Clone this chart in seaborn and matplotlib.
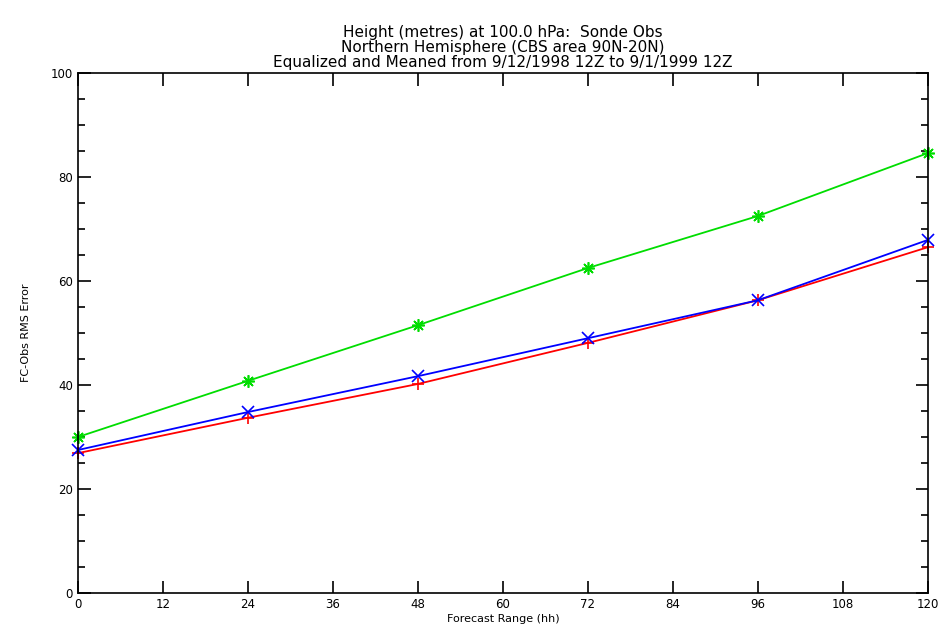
import numpy as np
import pandas as pd
import matplotlib
matplotlib.use("Agg")
import matplotlib.pyplot as plt
import seaborn as sns
from matplotlib.ticker import MultipleLocator

# ---------- DATA ----------
forecast_hours = [0, 24, 48, 72, 96, 120]
red_rms = [26.9, 33.7, 40.2, 48.1, 56.3, 66.5]
blue_rms = [27.5, 34.8, 41.7, 49.0, 56.3, 67.9]
green_rms = [30.0, 40.8, 51.5, 62.5, 72.5, 84.6]

series_names = ["red", "blue", "green"]
series_colors = ["#ff0000", "#0000ff", "#00dd00"]
series_markers = ["+", "x", (8, 2, 0)]

title_lines = [
    "Height (metres) at 100.0 hPa:  Sonde Obs",
    "Northern Hemisphere (CBS area 90N-20N)",
    "Equalized and Meaned from 9/12/1998 12Z to 9/1/1999 12Z",
]

df = pd.DataFrame({
    "hour": forecast_hours * 3,
    "rms": red_rms + blue_rms + green_rms,
    "series": np.repeat(series_names, len(forecast_hours)),
})

# ---------- PLOT ----------
sns.set_style("white")
plt.rcParams["font.family"] = ["DejaVu Sans"]
plt.rcParams["text.color"] = "black"
plt.rcParams["axes.labelcolor"] = "black"
plt.rcParams["xtick.color"] = "black"
plt.rcParams["ytick.color"] = "black"

fig = plt.figure(figsize=(9.43, 6.32), dpi=100)
ax = fig.add_axes([0.0827, 0.0617, 0.9013, 0.8228])

for name, color, marker in zip(series_names, series_colors, series_markers):
    sub = df[df["series"] == name]
    sns.lineplot(data=sub, x="hour", y="rms", color=color, marker=marker,
                 markersize=9, markeredgewidth=1.2, markeredgecolor=color,
                 linewidth=1.3, ax=ax, clip_on=False, legend=False)

ax.set_xlim(0, 120)
ax.set_ylim(0, 100)
ax.xaxis.set_major_locator(MultipleLocator(12))
ax.yaxis.set_major_locator(MultipleLocator(20))
ax.yaxis.set_minor_locator(MultipleLocator(5))
ax.tick_params(axis="both", which="major", direction="in", length=9, width=1.2,
               top=True, bottom=True, left=True, right=True,
               labelsize=8.5, colors="black")
ax.tick_params(axis="y", which="minor", direction="in", length=5, width=1.2,
               left=True, right=True)
for s in ax.spines.values():
    s.set_color("black")
    s.set_linewidth(1.2)

ax.set_xlabel("Forecast Range (hh)", fontsize=8, labelpad=2)
ax.set_ylabel("FC-Obs RMS Error", fontsize=8, labelpad=14)
ax.set_title("\n".join(title_lines), fontsize=11, linespacing=1.0, pad=4)

plt.savefig("out.png", dpi=100)
